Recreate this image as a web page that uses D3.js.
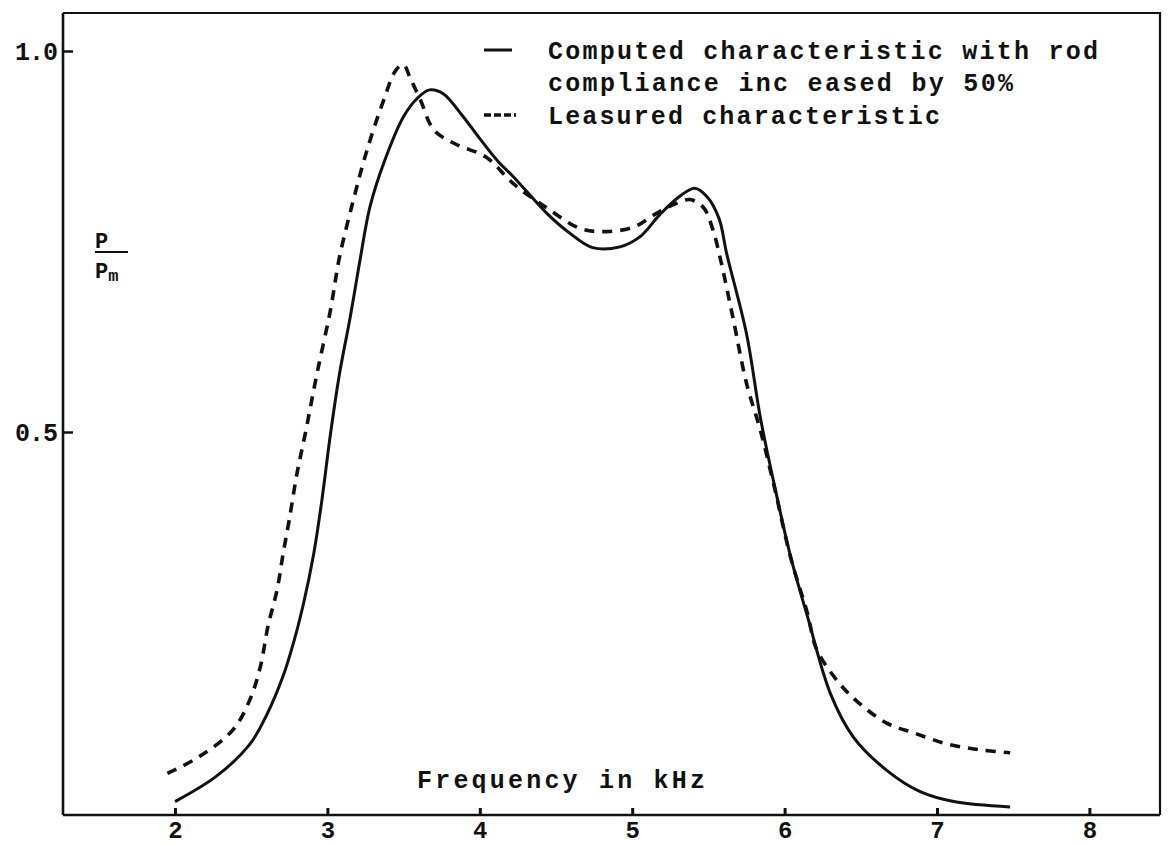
<!DOCTYPE html>
<html>
<head>
<meta charset="utf-8">
<script src="https://cdn.jsdelivr.net/npm/d3@7"></script>
<style>
  html, body { margin: 0; padding: 0; background: #fff; }
  svg { display: block; }
  text { font-family: "Liberation Mono", "DejaVu Sans Mono", monospace; font-weight: bold; fill: #111; }
</style>
</head>
<body>
<svg id="chart" width="1169" height="845"></svg>
<script>
// ---- data ----
const xTicks = [2, 3, 4, 5, 6, 7, 8];
const yTicks = [0.5, 1.0];
const yTickLabels = ["0.5", "1.0"];

const computedFreq = [2.00, 2.27, 2.49, 2.60, 2.71, 2.78, 2.84, 2.91, 2.96, 3.02, 3.08, 3.15, 3.21, 3.28, 3.37, 3.50, 3.59, 3.67, 3.76, 3.89, 4.00, 4.12, 4.22, 4.44, 4.59, 4.74, 4.92, 5.05, 5.18, 5.31, 5.41, 5.49, 5.57, 5.62, 5.75, 5.84, 5.93, 6.04, 6.15, 6.30, 6.45, 6.67, 6.89, 7.11, 7.48];
const computedVal  = [0.015, 0.048, 0.090, 0.128, 0.180, 0.225, 0.272, 0.340, 0.405, 0.497, 0.577, 0.651, 0.721, 0.796, 0.853, 0.914, 0.938, 0.949, 0.944, 0.914, 0.885, 0.855, 0.835, 0.787, 0.761, 0.742, 0.743, 0.756, 0.785, 0.809, 0.820, 0.809, 0.780, 0.734, 0.629, 0.520, 0.433, 0.336, 0.258, 0.157, 0.100, 0.056, 0.028, 0.015, 0.008];

const measuredFreq = [1.95, 2.16, 2.38, 2.49, 2.56, 2.61, 2.67, 2.71, 2.75, 2.80, 2.86, 2.93, 3.02, 3.08, 3.17, 3.26, 3.37, 3.45, 3.50, 3.54, 3.61, 3.70, 3.85, 4.04, 4.22, 4.44, 4.66, 4.83, 5.01, 5.16, 5.29, 5.38, 5.47, 5.53, 5.58, 5.66, 5.75, 5.84, 5.93, 6.04, 6.15, 6.21, 6.36, 6.49, 6.67, 6.85, 7.06, 7.28, 7.48];
const measuredVal  = [0.052, 0.074, 0.109, 0.148, 0.192, 0.245, 0.293, 0.341, 0.385, 0.445, 0.503, 0.575, 0.660, 0.730, 0.804, 0.870, 0.936, 0.975, 0.982, 0.966, 0.936, 0.896, 0.877, 0.861, 0.826, 0.794, 0.767, 0.763, 0.769, 0.787, 0.800, 0.805, 0.794, 0.765, 0.726, 0.651, 0.564, 0.503, 0.430, 0.335, 0.262, 0.215, 0.170, 0.144, 0.118, 0.105, 0.091, 0.083, 0.079];

const legendLines = ["Computed characteristic with rod", "compliance inc eased by 50%", "Leasured characteristic"];
const xAxisTitle = "Frequency in kHz";

// ---- layout ----
const svg = d3.select("#chart");
const frame = { left: 63, right: 1160, top: 13, bottom: 815 };

const x = d3.scaleLinear().domain([2, 8]).range([175, 1089.4]);
const y = d3.scaleLinear().domain([0, 1]).range([813, 51]);

const ink = "#111";

// frame: top and right borders
svg.append("path")
  .attr("d", `M${frame.left},${frame.top} H${frame.right} V${frame.bottom}`)
  .attr("fill", "none").attr("stroke", ink).attr("stroke-width", 2.2);

// x axis
const xAxis = d3.axisBottom(x).tickValues(xTicks).tickSize(-7).tickFormat(d3.format("d"));
const gx = svg.append("g").attr("transform", `translate(0,${frame.bottom})`).call(xAxis);
gx.select(".domain").attr("d", `M${frame.left},0 H${frame.right}`).attr("stroke", ink).attr("stroke-width", 2.6);
gx.selectAll(".tick line").attr("stroke", ink).attr("stroke-width", 3);
gx.selectAll(".tick text").attr("font-size", 24).attr("font-family", "Liberation Mono").attr("font-weight", "bold")
  .attr("fill", ink).attr("y", 23).attr("dy", 0);

// y axis
const yAxis = d3.axisLeft(y).tickValues(yTicks).tickSize(-10).tickPadding(6).tickFormat((d, i) => yTickLabels[i]);
const gy = svg.append("g").attr("transform", `translate(${frame.left},0)`).call(yAxis);
gy.select(".domain").attr("d", `M0,${frame.top} V${frame.bottom}`).attr("stroke", ink).attr("stroke-width", 2.6);
gy.selectAll(".tick line").attr("stroke", ink).attr("stroke-width", 2.5);
gy.selectAll(".tick text").attr("font-size", 25).attr("font-family", "Liberation Mono").attr("font-weight", "bold").attr("fill", ink).attr("letter-spacing", -1);

// curves
const line = d3.line().x(d => x(d[0])).y(d => y(d[1])).curve(d3.curveCatmullRom.alpha(0.5));
const computed = computedFreq.map((f, i) => [f, computedVal[i]]);
const measured = measuredFreq.map((f, i) => [f, measuredVal[i]]);

svg.append("path").datum(computed).attr("d", line)
  .attr("fill", "none").attr("stroke", ink).attr("stroke-width", 3);
svg.append("path").datum(measured).attr("d", line)
  .attr("fill", "none").attr("stroke", ink).attr("stroke-width", 3.6)
  .attr("stroke-dasharray", "10 8");

// legend
const legX0 = 484, legX1 = 512, legText = 548;
const legY = [50, 82, 115];
svg.append("line").attr("x1", legX0).attr("x2", legX1).attr("y1", legY[0]).attr("y2", legY[0])
  .attr("stroke", ink).attr("stroke-width", 3);
svg.append("line").attr("x1", legX0).attr("x2", legX1 + 4).attr("y1", legY[2]).attr("y2", legY[2])
  .attr("stroke", ink).attr("stroke-width", 3.4).attr("stroke-dasharray", "7 3");
const legWidths = [550, 465, 392];
legendLines.forEach((t, i) => {
  svg.append("text").attr("x", legText).attr("y", legY[i]).attr("dy", "0.35em")
    .attr("font-size", 25).attr("textLength", legWidths[i]).attr("lengthAdjust", "spacing")
    .text(t);
});

// x axis title
svg.append("text").attr("x", 417).attr("y", 779).attr("dy", "0.35em")
  .attr("font-size", 25).attr("textLength", 288).attr("lengthAdjust", "spacing")
  .text(xAxisTitle);

// y axis title  P / Pm
const yl = svg.append("g").attr("transform", "translate(95,0)");
yl.append("text").attr("x", 0).attr("y", 240).attr("dy", "0.35em").attr("font-size", 22).text("P");
yl.append("line").attr("x1", 0).attr("x2", 33).attr("y1", 252).attr("y2", 252).attr("stroke", ink).attr("stroke-width", 2);
const pm = yl.append("text").attr("x", 0).attr("y", 270).attr("dy", "0.35em").attr("font-size", 22);
pm.append("tspan").text("P");
pm.append("tspan").attr("font-size", 17).attr("dy", "0.2em").text("m");
</script>
</body>
</html>
